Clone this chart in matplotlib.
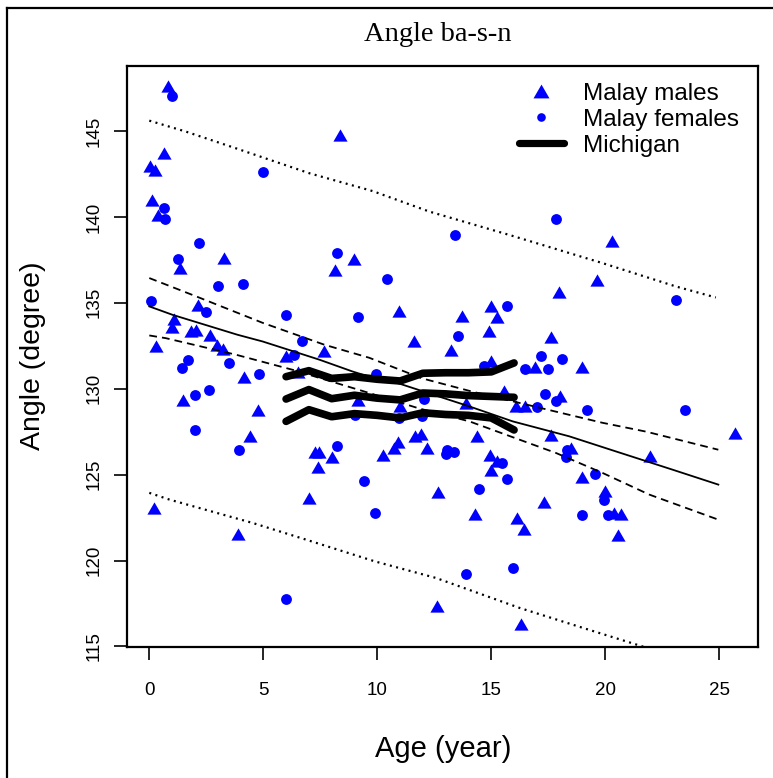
import matplotlib
matplotlib.use("Agg")
import matplotlib.pyplot as plt
from matplotlib.lines import Line2D

# ---------------- data ----------------
male_age = [0.80, 8.38, 0.63, 0.04, 0.26, 0.10, 0.37, 3.29, 1.36, 8.99, 8.16, 2.12, 1.07, 1.00,
            1.83, 2.05, 2.68, 0.29, 2.95, 3.25, 7.65, 6.00, 6.54, 4.14, 1.50, 4.78, 4.43, 7.28,
            7.45, 8.00, 7.38, 6.99, 0.22, 3.87, 9.14,
            20.28, 19.64, 17.95, 10.96, 14.98, 13.71, 15.23, 14.88, 11.59, 17.62, 13.23,
            14.98, 16.92, 19.00, 15.57, 18.01, 11.00, 13.89, 16.08, 16.48, 25.69, 17.64, 11.91,
            11.67, 10.89, 10.75, 12.18, 10.23, 14.36, 18.49, 21.97, 14.94, 15.23, 14.98, 18.98,
            12.65, 19.99, 17.32, 14.28, 16.15, 16.45, 20.39, 20.69, 20.57, 12.60, 16.30]
male_val = [147.6, 144.77, 143.7, 142.97, 142.7, 141.0, 140.1, 137.63, 137.0, 137.54, 136.9, 134.88,
            134.07, 133.6, 133.33, 133.39, 133.14, 132.5, 132.56, 132.3, 132.17, 131.88, 130.95,
            130.66, 129.36, 128.78, 127.23, 126.3, 126.3, 126.03, 125.45, 123.65, 123.06, 121.57,
            129.32,
            138.57, 136.34, 135.62, 134.5, 134.83, 134.24, 134.17, 133.33, 132.8, 132.99, 132.23,
            131.59, 131.26, 131.24, 129.84, 129.55, 129.01, 129.17, 128.97, 128.97, 127.42, 127.33,
            127.37, 127.23, 126.88, 126.55, 126.55, 126.16, 127.27, 126.55, 126.06, 126.16, 125.77,
            125.25, 124.87, 123.97, 124.07, 123.39, 122.71, 122.48, 121.84, 122.77, 122.71, 121.51,
            117.38, 116.28]

female_age = [0.99, 5.00, 0.66, 0.69, 2.19, 1.27, 8.22, 3.03, 4.09, 0.07, 2.49, 6.00, 9.14, 6.68,
              6.33, 1.68, 1.42, 3.48, 4.80, 9.94, 2.00, 2.60, 2.00, 9.02, 8.22, 3.95, 9.43, 9.90,
              6.00, 17.86, 13.42, 10.41, 23.10, 15.67, 13.55, 17.20, 18.10, 14.66, 16.49, 17.50,
              17.35, 17.83, 17.00, 19.18, 23.51, 12.03, 10.96, 11.96, 18.32, 18.27, 13.06, 13.35,
              13.01, 15.45, 15.67, 19.55, 14.47, 19.93, 18.96, 20.13, 13.89, 15.94]
female_val = [147.05, 142.6, 140.54, 139.86, 138.5, 137.56, 137.89, 135.95, 136.1, 135.08, 134.46,
              134.3, 134.15, 132.75, 131.98, 131.7, 131.2, 131.49, 130.87, 130.87, 129.65, 129.94,
              127.62, 128.49, 126.69, 126.41, 124.61, 122.77, 117.77, 139.87, 138.92, 136.38,
              135.17, 134.83, 133.04, 131.88, 131.73, 131.34, 131.14, 131.14, 129.69, 129.3,
              128.94, 128.74, 128.74, 129.42, 128.3, 128.39, 126.45, 126.03, 126.45, 126.3,
              126.22, 125.68, 124.77, 125.06, 124.19, 123.5, 122.63, 122.63, 119.23, 119.58]

# Michigan reference curves (ages 6..16)
mich_age = [6, 7, 8, 9, 10, 11, 12, 13, 14, 15, 16]
mich_upper = [130.7, 131.05, 130.6, 130.7, 130.55, 130.45, 130.9, 130.93, 130.93, 130.98, 131.5]
mich_mid = [129.4, 129.95, 129.42, 129.62, 129.45, 129.35, 129.75, 129.7, 129.6, 129.55, 129.5]
mich_lower = [128.1, 128.78, 128.37, 128.55, 128.45, 128.3, 128.6, 128.5, 128.45, 128.3, 127.6]

# fitted line, confidence band (dashed), prediction band (dotted)
fit_age = [0, 1.02, 3.87, 4.97, 7.46, 8.92, 10.09, 10.89, 14.04, 15.94, 18.42, 20.47, 22.95, 24.96]
fit_val = [134.79, 134.3, 133.14, 132.75, 131.69, 131.0, 130.52, 130.33, 128.97, 128.1, 127.23,
           126.35, 125.29, 124.42]
ci_hi_age = [0, 2.1, 4.96, 7.68, 9.65, 11.97, 14.17, 19.87, 21.8, 24.96]
ci_hi_val = [136.44, 135.35, 133.84, 132.56, 131.8, 130.6, 129.83, 128.02, 127.5, 126.45]
ci_lo_age = [0, 0.73, 3.8, 6.29, 9.65, 11.84, 14.04, 17.84, 19.88, 21.93, 24.96]
ci_lo_val = [133.1, 132.94, 131.98, 131.1, 129.75, 128.85, 128.1, 126.26, 125.1, 123.84, 122.38]
pi_hi_age = [0, 1.61, 3.8, 7.02, 9.8, 12.28, 15.79, 19.88, 23.1, 24.85]
pi_hi_val = [145.6, 144.96, 143.99, 142.54, 141.5, 140.31, 138.95, 137.31, 135.95, 135.31]
pi_lo_age = [0, 0.88, 2.19, 4.53, 6.87, 9.9, 12.57, 16.23, 19.0, 21.35, 24.96]
pi_lo_val = [123.94, 123.55, 123.06, 122.19, 121.22, 119.95, 118.99, 117.25, 116.09, 115.12, 113.6]

x_ticks = [0, 5, 10, 15, 20, 25]
y_ticks = [115, 120, 125, 130, 135, 140, 145]
legend_labels = ["Malay males", "Malay females", "Michigan"]

# ---------------- figure ----------------
W, H = 773, 778
fig = plt.figure(figsize=(W / 100, H / 100), dpi=100)
fig.patch.set_facecolor("white")
sans = ["Liberation Sans", "DejaVu Sans"]
serif = ["Liberation Serif", "DejaVu Serif"]

L, R, T, B = 127, 758, 66, 647
ax = fig.add_axes([L / W, 1 - B / H, (R - L) / W, (B - T) / H])
ax.set_xlim(-0.978, 26.70)
ax.set_ylim(114.97, 148.78)

tri = [(0, 0.75), (-0.866, -0.75), (0.866, -0.75)]
blue = "#0000ff"
ax.plot(male_age, male_val, linestyle="none", marker=tri, markersize=10.2,
        color=blue, markeredgewidth=0, zorder=2)
ax.plot(female_age, female_val, linestyle="none", marker="o", markersize=7.8,
        color=blue, markeredgewidth=0, zorder=2)

ax.plot(fit_age, fit_val, color="black", lw=1.3, zorder=3)
ax.plot(ci_hi_age, ci_hi_val, color="black", lw=1.3, dashes=(4.3, 2.8), zorder=3)
ax.plot(ci_lo_age, ci_lo_val, color="black", lw=1.3, dashes=(4.3, 2.8), zorder=3)
ax.plot(pi_hi_age, pi_hi_val, color="black", lw=1.6, dashes=(0.9, 2.0), zorder=3)
ax.plot(pi_lo_age, pi_lo_val, color="black", lw=1.6, dashes=(0.9, 2.0), zorder=3)

for yv in (mich_upper, mich_mid, mich_lower):
    ax.plot(mich_age, yv, color="black", lw=5.5, solid_capstyle="round",
            solid_joinstyle="round", zorder=4)

# axes styling
for s in ax.spines.values():
    s.set_linewidth(1.6)
ax.set_xticks(x_ticks)
ax.set_yticks(y_ticks)
ax.tick_params(axis="both", direction="out", length=9.5, width=1.2, labelsize=13.5)
ax.tick_params(axis="x", pad=15.5)
ax.tick_params(axis="y", pad=8.0)
for lab in ax.get_xticklabels() + ax.get_yticklabels():
    lab.set_fontfamily(sans)
for lab in ax.get_yticklabels():
    lab.set_rotation(90)
    lab.set_va("center")

# legend
handles = [
    Line2D([], [], linestyle="none", marker=tri, markersize=11.5, color=blue, markeredgewidth=0),
    Line2D([], [], linestyle="none", marker="o", markersize=6.2, color=blue, markeredgewidth=0),
    Line2D([], [], color="black", lw=5.2, solid_capstyle="round"),
]
ax.legend(handles, legend_labels, loc="upper left", bbox_to_anchor=(519 / W, 1 - 82.5 / H),
          bbox_transform=fig.transFigure, frameon=False, borderpad=0, borderaxespad=0,
          handlelength=1.85, handletextpad=0.8, labelspacing=0.17,
          prop={"family": sans, "size": 17.5})

# texts
fig.text(438 / W, 1 - 40.7 / H, "Angle ba-s-n", ha="center", va="baseline",
         fontsize=20.5, family=serif)
fig.text(443 / W, 1 - 757 / H, "Age (year)", ha="center", va="baseline",
         fontsize=21, family=sans)
fig.text(40 / W, 1 - 356 / H, "Angle (degree)", ha="center", va="baseline",
         rotation=90, rotation_mode="anchor", fontsize=20.5, family=sans)

# outer frame (left and top edges visible in the reference)
fig.add_artist(Line2D([7.5 / W, 7.5 / W], [0, 1 - 7.5 / H], color="black", lw=1.6,
                      transform=fig.transFigure))
fig.add_artist(Line2D([7.5 / W, 1], [1 - 7.5 / H, 1 - 7.5 / H], color="black", lw=1.6,
                      transform=fig.transFigure))

fig.savefig("out.png", dpi=100)
